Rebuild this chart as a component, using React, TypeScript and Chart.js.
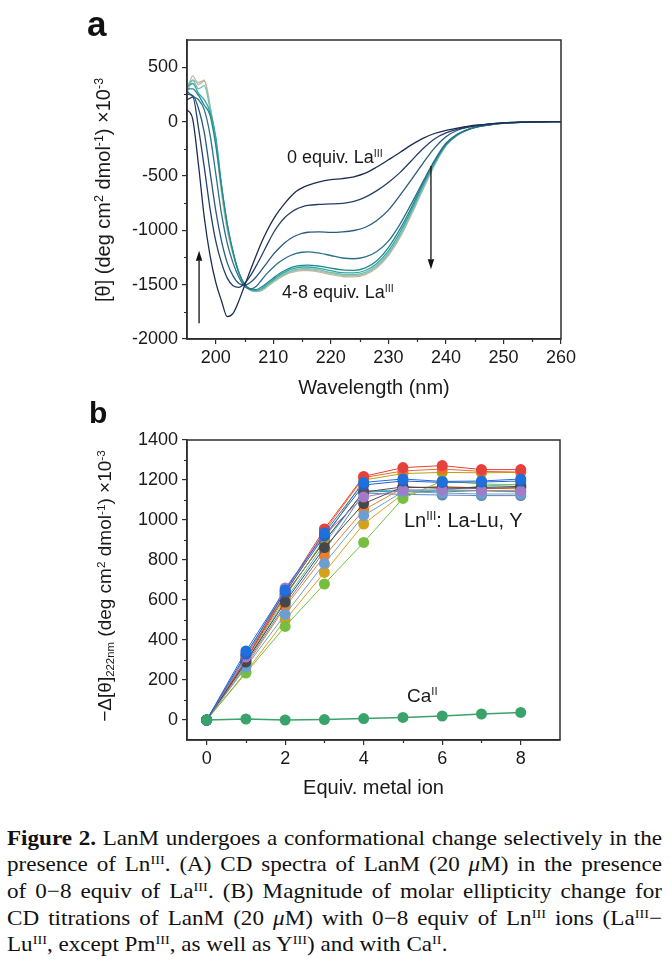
import React, { useEffect, useRef } from "react";
import { Chart, registerables } from "chart.js";

Chart.register(...registerables);

const SANS = "'Liberation Sans', Arial, Helvetica, sans-serif";
const SERIF = "'Liberation Serif', 'Times New Roman', serif";
const INK = "#1a1a1a";
const FRAME = "#2e2e2e";

// ---------- Panel a: CD spectra (0–8 equiv La(III)) ----------
const WAVELENGTH_NM = [195, 196, 197, 198, 199, 200, 201, 202, 203, 204, 205, 206, 207, 208, 209, 210, 211, 212, 213, 214, 215, 216,
  218, 220, 222, 224, 226, 228, 230, 232, 234, 236, 238, 240, 242, 244, 246, 248, 250, 253, 256, 260];

const EQUIV_0 = [110, 20, -400, -880, -1230, -1480, -1650, -1795, -1765, -1650, -1510, -1370, -1235, -1105, -995, -900, -820, -752, -692, -642, -610, -588,
  -555, -535, -525, -508, -475, -418, -352, -285, -215, -155, -110, -82, -60, -42, -30, -20, -12, -6, -3, -1];
const EQUIV_1 = [200, 225, -60, -420, -800, -1100, -1300, -1440, -1510, -1525, -1490, -1420, -1330, -1230, -1125, -1025, -945, -882, -838, -805, -785, -772,
  -762, -758, -752, -735, -695, -635, -560, -470, -360, -250, -160, -105, -70, -48, -33, -22, -13, -6, -3, -1];
const EQUIV_2 = [250, 240, 120, -100, -460, -820, -1100, -1300, -1420, -1490, -1505, -1480, -1430, -1362, -1292, -1222, -1165, -1115, -1075, -1048, -1028, -1018,
  -1015, -1020, -1015, -1002, -972, -910, -815, -680, -535, -385, -245, -140, -80, -50, -34, -22, -13, -6, -3, -1];
const EQUIV_3 = [280, 230, 200, 110, -120, -480, -850, -1120, -1300, -1430, -1515, -1540, -1518, -1455, -1392, -1340, -1295, -1260, -1232, -1213, -1202, -1198,
  -1210, -1232, -1255, -1262, -1245, -1195, -1100, -945, -755, -555, -360, -200, -115, -70, -44, -27, -16, -7, -3, -1];
const EQUIV_4 = [300, 300, 240, 150, 60, -220, -600, -940, -1200, -1390, -1495, -1538, -1545, -1520, -1480, -1440, -1400, -1370, -1345, -1330, -1322, -1320,
  -1330, -1348, -1365, -1368, -1345, -1280, -1160, -990, -790, -570, -370, -210, -120, -70, -42, -26, -15, -7, -3, -1];
const EQUIV_5 = [320, 350, 260, 200, 90, -140, -580, -950, -1200, -1388, -1498, -1544, -1555, -1535, -1495, -1455, -1415, -1385, -1360, -1345, -1338, -1338,
  -1350, -1372, -1390, -1392, -1370, -1305, -1190, -1020, -815, -590, -385, -215, -122, -70, -42, -26, -15, -7, -3, -1];
const EQUIV_6 = [330, 380, 300, 330, 120, -160, -600, -960, -1205, -1385, -1500, -1548, -1560, -1545, -1505, -1465, -1428, -1398, -1375, -1360, -1352, -1352,
  -1365, -1388, -1405, -1408, -1388, -1325, -1210, -1045, -835, -610, -395, -220, -124, -72, -42, -26, -15, -7, -3, -1];
const EQUIV_7 = [280, 420, 340, 370, 140, -180, -630, -980, -1215, -1385, -1500, -1550, -1562, -1550, -1512, -1472, -1436, -1406, -1384, -1370, -1362, -1362,
  -1376, -1398, -1415, -1418, -1398, -1335, -1222, -1058, -848, -620, -400, -222, -125, -72, -42, -26, -15, -7, -3, -1];
const EQUIV_8 = [260, 380, 360, 380, 150, -200, -660, -1000, -1220, -1385, -1500, -1550, -1565, -1555, -1518, -1478, -1442, -1412, -1390, -1377, -1370, -1370,
  -1385, -1408, -1425, -1428, -1408, -1345, -1232, -1068, -858, -628, -405, -224, -126, -72, -42, -26, -15, -7, -3, -1];

const SPECTRUM_LABELS = ["0 equiv", "1 equiv", "2 equiv", "3 equiv", "4 equiv", "5 equiv", "6 equiv", "7 equiv", "8 equiv"];
const SPECTRUM_COLORS = ["#1d2d50", "#24406a", "#285a7e", "#2b6f8c", "#1f8a8e", "#35a6a6", "#72c0b8", "#aebfa6", "#cbb89c"];

const A_X_TICKS = [200, 210, 220, 230, 240, 250, 260];
const A_Y_TICKS = [-2000, -1500, -1000, -500, 0, 500];
const A_X_MINOR = [205, 215, 225, 235, 245, 255];
const A_Y_MINOR = [-1750, -1250, -750, -250, 250];

const ARROW_UP = { x: 197.1, from: -1856, to: -1188 };
const ARROW_DOWN = { x: 237.4, from: -408, to: -1359 };

// ---------- Panel b: titration at 222 nm ----------
const EQUIV_METAL = [0, 1, 2, 3, 4, 5, 6, 7, 8];
const CE = [0, 345, 650, 935, 1188, 1205, 1193, 1195, 1205];
const SM = [0, 330, 640, 920, 1175, 1195, 1188, 1190, 1195];
const GD = [0, 315, 660, 925, 1115, 1150, 1150, 1148, 1146];
const TB = [0, 290, 590, 862, 1082, 1165, 1160, 1163, 1168];
const YB = [0, 265, 528, 783, 1022, 1142, 1135, 1130, 1130];
const Y_ION = [0, 235, 468, 680, 888, 1108, 1195, 1180, 1176];
const LA = [0, 300, 645, 955, 1218, 1262, 1272, 1252, 1252];
const PR = [0, 305, 630, 945, 1212, 1245, 1255, 1243, 1240];
const ND = [0, 290, 615, 905, 1200, 1232, 1238, 1236, 1238];
const EU = [0, 300, 625, 895, 1140, 1165, 1160, 1158, 1162];
const DY = [0, 270, 565, 820, 1050, 1160, 1168, 1160, 1155];
const HO = [0, 320, 625, 895, 1140, 1145, 1140, 1148, 1142];
const ER = [0, 285, 600, 880, 1145, 1150, 1148, 1170, 1178];
const TM = [0, 280, 575, 845, 1135, 1128, 1125, 1122, 1122];
const LU = [0, 240, 500, 738, 980, 1130, 1150, 1145, 1140];
const LN_LABELS = ["Ce", "Sm", "Gd", "Tb", "Yb", "Y", "La", "Pr", "Nd", "Eu", "Dy", "Ho", "Er", "Tm", "Lu"];
const LN_COLORS = ["#1f6fdc", "#2a5fc4", "#a07cc8", "#474747", "#6c9fd0", "#76be3f", "#e5403a", "#f26b2b", "#b0a21c",
  "#6e4646", "#ee7d2e", "#22a59f", "#4fb8d8", "#5d86b5", "#d8a017"];
const CA = [0, 5, 0, 2, 7, 13, 20, 30, 38];
const CA_COLOR = "#3aa36b";

const B_X_TICKS = [0, 2, 4, 6, 8];
const B_Y_TICKS = [0, 200, 400, 600, 800, 1000, 1200, 1400];
const B_X_MINOR = [1, 3, 5, 7];
const B_Y_MINOR = [100, 300, 500, 700, 900, 1100, 1300];

function frameAndMinorTicks(minorX: number[], minorY: number[]) {
  return {
    id: "frameMinor",
    afterDraw(chart: any) {
      const { ctx, chartArea: a, scales } = chart;
      ctx.save();
      ctx.strokeStyle = FRAME;
      ctx.lineWidth = 1.2;
      ctx.beginPath();
      for (const v of minorX) {
        const px = Math.round(scales.x.getPixelForValue(v)) + 0.5;
        ctx.moveTo(px, a.bottom);
        ctx.lineTo(px, a.bottom + 3);
      }
      for (const v of minorY) {
        const py = Math.round(scales.y.getPixelForValue(v)) + 0.5;
        ctx.moveTo(a.left, py);
        ctx.lineTo(a.left - 3, py);
      }
      ctx.stroke();
      ctx.lineWidth = 1.5;
      ctx.strokeRect(a.left, a.top, a.right - a.left, a.bottom - a.top);
      ctx.restore();
    },
  };
}

const arrowPlugin = {
  id: "arrows",
  afterDatasetsDraw(chart: any) {
    const { ctx, scales } = chart;
    ctx.save();
    ctx.strokeStyle = "#111";
    ctx.fillStyle = "#111";
    ctx.lineWidth = 1.3;
    for (const arr of [ARROW_UP, ARROW_DOWN]) {
      const px = scales.x.getPixelForValue(arr.x);
      const y0 = scales.y.getPixelForValue(arr.from);
      const y1 = scales.y.getPixelForValue(arr.to);
      const dir = Math.sign(y1 - y0);
      const head = 10;
      ctx.beginPath();
      ctx.moveTo(px, y0);
      ctx.lineTo(px, y1 - dir * head);
      ctx.stroke();
      ctx.beginPath();
      ctx.moveTo(px, y1);
      ctx.lineTo(px - 3.2, y1 - dir * head);
      ctx.lineTo(px + 3.2, y1 - dir * head);
      ctx.closePath();
      ctx.fill();
    }
    ctx.restore();
  },
};

function axis(min: number, max: number, tickValues: number[], size: { w?: number; h?: number }, padding: number, title?: string) {
  return {
    type: "linear" as const,
    min,
    max,
    afterFit: (s: any) => {
      if (size.w !== undefined) s.width = size.w;
      if (size.h !== undefined) s.height = size.h;
    },
    afterBuildTicks: (s: any) => {
      s.ticks = tickValues.map((value) => ({ value }));
    },
    ticks: {
      autoSkip: false,
      maxRotation: 0,
      color: INK,
      font: { family: SANS, size: 18 },
      padding,
      callback: (v: any) => String(v),
    },
    grid: { display: true, drawOnChartArea: false, drawTicks: true, tickLength: 5, color: FRAME, lineWidth: 1.2 },
    border: { display: true, color: FRAME, width: 1.5 },
    title: title
      ? { display: true, text: title, color: INK, font: { family: SANS, size: 20 }, padding: { top: 0, bottom: 0 } }
      : { display: false },
  };
}

export default function App() {
  const refA = useRef<HTMLCanvasElement>(null);
  const refB = useRef<HTMLCanvasElement>(null);

  useEffect(() => {
    const spectra = [EQUIV_0, EQUIV_1, EQUIV_2, EQUIV_3, EQUIV_4, EQUIV_5, EQUIV_6, EQUIV_7, EQUIV_8];
    const chartA = new Chart(refA.current as HTMLCanvasElement, {
      type: "line",
      data: {
        datasets: spectra.map((ys, i) => ({
          label: SPECTRUM_LABELS[i],
          data: WAVELENGTH_NM.map((x, j) => ({ x, y: ys[j] })),
          borderColor: SPECTRUM_COLORS[i],
          borderWidth: 1.3,
          pointRadius: 0,
          fill: false,
          cubicInterpolationMode: "monotone" as const,
        })),
      },
      options: {
        animation: false,
        responsive: false,
        events: [],
        layout: { padding: { left: 0, top: 40, right: 110, bottom: 0 } },
        plugins: { legend: { display: false }, tooltip: { enabled: false } },
        scales: {
          x: { ...axis(195, 260, A_X_TICKS, { h: 61 }, 3, "Wavelength (nm)"), position: "bottom" },
          y: { ...axis(-2000, 750, A_Y_TICKS, { w: 187 }, 4), position: "left" },
        },
      } as any,
      plugins: [frameAndMinorTicks(A_X_MINOR, A_Y_MINOR), arrowPlugin],
    });

    const lnSeries = [CE, SM, GD, TB, YB, Y_ION, LA, PR, ND, EU, DY, HO, ER, TM, LU];
    const chartB = new Chart(refB.current as HTMLCanvasElement, {
      type: "line",
      data: {
        datasets: [
          {
            label: "Ca",
            data: EQUIV_METAL.map((x, j) => ({ x, y: CA[j] })),
            borderColor: CA_COLOR,
            backgroundColor: CA_COLOR,
            pointBackgroundColor: CA_COLOR,
            pointBorderWidth: 0,
            pointRadius: 5.5,
            borderWidth: 1.5,
            fill: false,
            tension: 0,
          },
          ...lnSeries.map((ys, i) => ({
            label: LN_LABELS[i],
            data: EQUIV_METAL.map((x, j) => ({ x, y: ys[j] })),
            borderColor: LN_COLORS[i],
            backgroundColor: LN_COLORS[i],
            pointBackgroundColor: LN_COLORS[i],
            pointBorderWidth: 0,
            pointRadius: 5.5,
            borderWidth: 1,
            fill: false,
            tension: 0,
          })),
        ],
      },
      options: {
        animation: false,
        responsive: false,
        events: [],
        layout: { padding: { left: 0, top: 40, right: 111, bottom: 0 } },
        plugins: { legend: { display: false }, tooltip: { enabled: false } },
        scales: {
          x: { ...axis(-0.5, 9, B_X_TICKS, { h: 60 }, 3, "Equiv. metal ion"), position: "bottom" },
          y: { ...axis(-100, 1400, B_Y_TICKS, { w: 187 }, 4), position: "left" },
        },
      } as any,
      plugins: [frameAndMinorTicks(B_X_MINOR, B_Y_MINOR)],
    });

    return () => {
      chartA.destroy();
      chartB.destroy();
    };
  }, []);

  const sup: React.CSSProperties = { fontSize: "0.62em", verticalAlign: "0.55em", lineHeight: 0 };
  const sub: React.CSSProperties = { fontSize: "0.6em", verticalAlign: "-0.3em", lineHeight: 0 };
  const capSup: React.CSSProperties = { fontSize: "0.6em", verticalAlign: "0.6em", lineHeight: 0 };

  const lineBase: React.CSSProperties = {
    position: "absolute",
    left: 7,
    width: 655 / 1.1,
    transform: "scaleX(1.1)",
    transformOrigin: "left top",
    fontFamily: SERIF,
    fontSize: 21,
    lineHeight: "26.67px",
    height: 26.67,
    color: "#111",
    textAlign: "justify",
    textAlignLast: "justify" as any,
  };

  return (
    <div style={{ position: "relative", width: 671, height: 960, overflow: "hidden", background: "#fff", fontFamily: SANS }}>
      <style>{`html,body{margin:0;padding:0;background:#fff}`}</style>
      <canvas ref={refA} width={671} height={400} style={{ position: "absolute", left: 0, top: 0 }} />
      <canvas ref={refB} width={671} height={400} style={{ position: "absolute", left: 0, top: 400 }} />

      {/* panel letters */}
      <div style={{ position: "absolute", left: 87, top: 5.7, fontSize: 35, lineHeight: "35px", fontWeight: 700, color: "#111" }}>a</div>
      <div style={{ position: "absolute", left: 89, top: 397.6, fontSize: 30, lineHeight: "30px", fontWeight: 700, color: "#111" }}>b</div>

      {/* y-axis titles */}
      <div style={{ position: "absolute", left: 103, top: 190, transform: "translate(-50%, -50%) rotate(-90deg)", whiteSpace: "nowrap", fontSize: 20, lineHeight: "24px", color: INK }}>
        [θ] (deg cm<span style={sup}>2</span> dmol<span style={sup}>-1</span>) ×10<span style={sup}>-3</span>
      </div>
      <div style={{ position: "absolute", left: 105, top: 586, transform: "translate(-50%, -50%) rotate(-90deg)", whiteSpace: "nowrap", fontSize: 19, lineHeight: "24px", color: INK }}>
        −Δ[θ]<span style={sub}>222nm</span> (deg cm<span style={sup}>2</span> dmol<span style={sup}>-1</span>) ×10<span style={sup}>-3</span>
      </div>

      {/* annotations */}
      <div style={{ position: "absolute", left: 287, top: 148, fontSize: 18, lineHeight: "18px", whiteSpace: "nowrap", color: INK }}>
        0 equiv. La<span style={capSup}>III</span>
      </div>
      <div style={{ position: "absolute", left: 282, top: 283, fontSize: 18, lineHeight: "18px", whiteSpace: "nowrap", color: INK }}>
        4-8 equiv. La<span style={capSup}>III</span>
      </div>
      <div style={{ position: "absolute", left: 404, top: 510, fontSize: 20, lineHeight: "20px", whiteSpace: "nowrap", color: INK }}>
        Ln<span style={capSup}>III</span>: La-Lu, Y
      </div>
      <div style={{ position: "absolute", left: 407, top: 686, fontSize: 19, lineHeight: "19px", whiteSpace: "nowrap", color: INK }}>
        Ca<span style={capSup}>II</span>
      </div>

      {/* caption */}
      <div style={{ ...lineBase, top: 824.6 }}>
        <b>Figure 2.</b> LanM undergoes a conformational change selectively in the
      </div>
      <div style={{ ...lineBase, top: 851.3 }}>
        presence of Ln<span style={sup}>III</span>. (A) CD spectra of LanM (20 <i>μ</i>M) in the presence
      </div>
      <div style={{ ...lineBase, top: 877.9 }}>
        of 0−8 equiv of La<span style={sup}>III</span>. (B) Magnitude of molar ellipticity change for
      </div>
      <div style={{ ...lineBase, top: 904.6 }}>
        CD titrations of LanM (20 <i>μ</i>M) with 0−8 equiv of Ln<span style={sup}>III</span> ions (La<span style={sup}>III</span>−
      </div>
      <div style={{ ...lineBase, top: 931.3, textAlign: "left", textAlignLast: "left" as any }}>
        Lu<span style={sup}>III</span>, except Pm<span style={sup}>III</span>, as well as Y<span style={sup}>III</span>) and with Ca<span style={sup}>II</span>.
      </div>
    </div>
  );
}
